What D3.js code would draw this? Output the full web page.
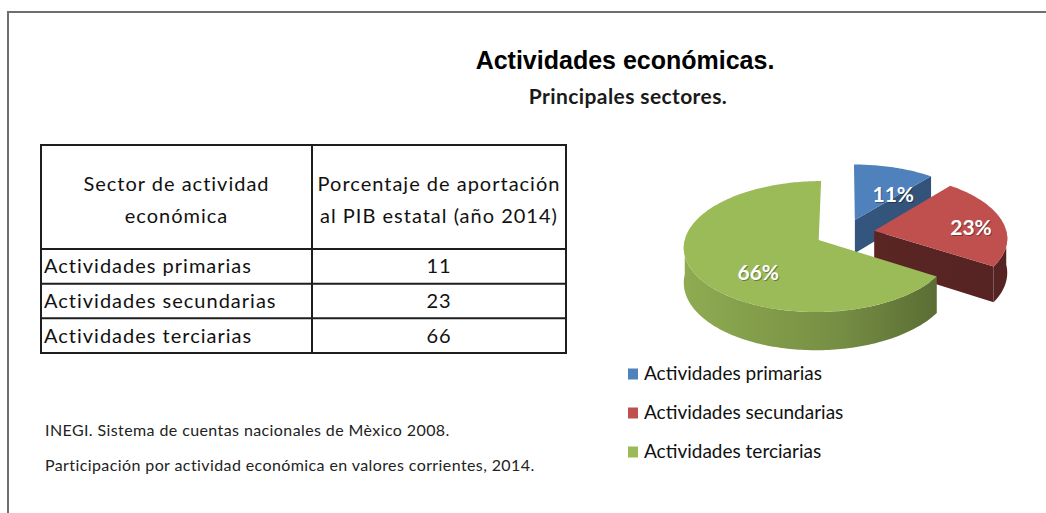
<!DOCTYPE html>
<html>
<head>
<meta charset="utf-8">
<script src="https://cdn.jsdelivr.net/npm/d3@7"></script>
<style>
  body { margin: 0; background: #fff; }
  svg { display: block; }
  .cal { font-family: Lato, "Open Sans", sans-serif; }
</style>
</head>
<body>
<div id="chart"></div>
<script>
'use strict';

// datos
var sectors = ["Actividades primarias", "Actividades secundarias", "Actividades terciarias"];
var shares = [11, 23, 66];
var colors = ["#4F81BD", "#C0504D", "#9BBB59"];
var headers = [["Sector de actividad", "económica"], ["Porcentaje de aportación", "al PIB estatal (año 2014)"]];
var title = "Actividades económicas.";
var subtitle = "Principales sectores.";
var notes = ["INEGI. Sistema de cuentas nacionales de Mèxico 2008.",
             "Participación por actividad económica en valores corrientes, 2014."];

var width = 1046, height = 513;

var svg = d3.select("#chart").append("svg")
    .attr("width", width)
    .attr("height", height);

var defs = svg.append("defs");

// marco
svg.append("rect")
    .attr("x", 8).attr("y", 12)
    .attr("width", 1200).attr("height", 700)
    .attr("fill", "none")
    .attr("stroke", "#6e6e6e")
    .attr("stroke-width", 2);

// titulos
svg.append("text")
    .attr("x", 625).attr("y", 69)
    .attr("text-anchor", "middle")
    .style("font-family", "'Liberation Sans', Arial, sans-serif")
    .style("font-weight", "bold")
    .style("font-size", "25px")
    .text(title);

svg.append("text")
    .attr("class", "cal")
    .attr("x", 628).attr("y", 104)
    .attr("text-anchor", "middle")
    .style("font-weight", "bold")
    .style("font-size", "21px")
    .style("letter-spacing", "0.4px")
    .style("fill", "#1a1a1a")
    .text(subtitle);

// tabla
var tableLeft = 41, tableMid = 312, tableRight = 566, tableTop = 145, headBottom = 249;
var rowY = d3.scaleBand().domain(sectors).range([headBottom, 353]);

var table = svg.append("g").attr("class", "cal")
    .style("font-size", "20px")
    .style("letter-spacing", "1px");

table.append("rect")
    .attr("x", tableLeft).attr("y", tableTop)
    .attr("width", tableRight - tableLeft).attr("height", 353 - tableTop)
    .attr("fill", "none").attr("stroke", "#1e1e1e").attr("stroke-width", 2);

table.append("line")
    .attr("x1", tableMid).attr("x2", tableMid)
    .attr("y1", tableTop).attr("y2", 353)
    .attr("stroke", "#1e1e1e").attr("stroke-width", 2);

table.selectAll(".hline")
    .data(sectors)
    .enter().append("line")
    .attr("class", "hline")
    .attr("x1", tableLeft).attr("x2", tableRight)
    .attr("y1", function (d) { return rowY(d); })
    .attr("y2", function (d) { return rowY(d); })
    .attr("stroke", "#1e1e1e").attr("stroke-width", 2);

var colCenters = [(tableLeft + tableMid) / 2, (tableMid + tableRight) / 2];
headers.forEach(function (lines, i) {
    table.selectAll(".h" + i)
        .data(lines)
        .enter().append("text")
        .attr("x", colCenters[i])
        .attr("y", function (d, j) { return 191 + j * 32; })
        .attr("text-anchor", "middle")
        .style("fill", "#111")
        .text(function (d) { return d; });
});

table.selectAll(".rowlabel")
    .data(sectors)
    .enter().append("text")
    .attr("x", tableLeft + 3)
    .attr("y", function (d) { return rowY(d) + rowY.bandwidth() / 2 + 7; })
    .style("fill", "#111")
    .text(function (d) { return d; });

table.selectAll(".rowvalue")
    .data(shares)
    .enter().append("text")
    .attr("x", colCenters[1])
    .attr("y", function (d, i) { return rowY(sectors[i]) + rowY.bandwidth() / 2 + 7; })
    .attr("text-anchor", "middle")
    .style("fill", "#111")
    .text(function (d) { return d; });

// notas
svg.selectAll(".note")
    .data(notes)
    .enter().append("text")
    .attr("class", "cal")
    .attr("x", 45)
    .attr("y", function (d, i) { return 436 + i * 35; })
    .style("font-size", "16px")
    .style("letter-spacing", "0.4px")
    .style("fill", "#222")
    .text(function (d) { return d; });

// pastel 3d
var P = 0.1, cx = 845, cy = 233, rx = 132.5, ry = 63.4, depth = 34, explode = 0.224;

function proj(X, Z, H) {
    var s = 1 / (1 + P * Z);
    return [cx + rx * X * s, cy + (-ry * Z + depth * H) * s];
}

var pie = d3.pie().sort(null).value(function (d) { return d; });
var arcs = pie(shares).map(function (d, i) {
    var mid = (d.startAngle + d.endAngle) / 2;
    d.i = i;
    d.ox = explode * Math.sin(mid);
    d.oz = explode * Math.cos(mid);
    return d;
});

function rim(d, a, H) { return proj(d.ox + Math.sin(a), d.oz + Math.cos(a), H); }
function apex(d, H) { return proj(d.ox, d.oz, H); }
function arcPts(d, a0, a1, H) {
    var n = Math.max(2, Math.ceil((a1 - a0) / 0.02));
    return d3.range(n + 1).map(function (k) { return rim(d, a0 + (a1 - a0) * k / n, H); });
}

var line = d3.line();
var pieG = svg.append("g");

// gradiente lateral de cada porción
arcs.forEach(function (d) {
    var c = d3.color(colors[d.i]);
    var g = defs.append("linearGradient")
        .attr("id", "side" + d.i)
        .attr("gradientUnits", "userSpaceOnUse")
        .attr("x1", cx - rx * 1.2).attr("x2", cx + rx * 1.3)
        .attr("y1", 0).attr("y2", 0);
    var stops = d.i === 2 ? [[0, 0.25], [0.45, 0.75], [1, 2.3]] : [[0, 1.9], [1, 2.3]];
    if (d.i === 0) stops = [[0, 0.9], [1, 1.4]];
    stops.forEach(function (s) {
        g.append("stop").attr("offset", s[0]).attr("stop-color", c.darker(s[1]).formatHex());
    });
});

var order = arcs.slice().sort(function (a, b) { return b.oz - a.oz; });

order.forEach(function (d) {
    var g = pieG.append("g");
    var a0 = d.startAngle, a1 = d.endAngle;
    // caras de corte visibles
    if (Math.sin(a1) > 1e-6) {
        g.append("path")
            .attr("d", line([apex(d, 0), rim(d, a1, 0), rim(d, a1, 1), apex(d, 1)]) + "Z")
            .attr("fill", "url(#side" + d.i + ")");
    }
    if (Math.sin(a0) < -1e-6) {
        g.append("path")
            .attr("d", line([apex(d, 0), rim(d, a0, 0), rim(d, a0, 1), apex(d, 1)]) + "Z")
            .attr("fill", "url(#side" + d.i + ")");
    }
    // pared exterior visible
    var s0 = Math.max(a0, Math.PI / 2), s1 = Math.min(a1, 3 * Math.PI / 2);
    if (s1 > s0) {
        var pts = arcPts(d, s0, s1, 0).concat(arcPts(d, s0, s1, 1).reverse());
        g.append("path")
            .attr("d", line(pts) + "Z")
            .attr("fill", "url(#side" + d.i + ")");
    }
    // cara superior
    g.append("path")
        .attr("d", line([apex(d, 0)].concat(arcPts(d, a0, a1, 0))) + "Z")
        .attr("fill", colors[d.i]);
});

// etiquetas de porcentaje
var labelPos = [[36, 0.53], [86, 0.74], [221, 0.64]];
var labels = pieG.selectAll(".plabel")
    .data(arcs)
    .enter().append("g")
    .attr("transform", function (d) {
        var a = labelPos[d.i][0] * Math.PI / 180, r = labelPos[d.i][1];
        var p = proj(d.ox + r * Math.sin(a), d.oz + r * Math.cos(a), 0);
        return "translate(" + p[0] + "," + (p[1] + 7) + ")";
    })
    .attr("class", "cal")
    .style("font-weight", "bold")
    .style("font-size", "21px")
    .attr("text-anchor", "middle");

labels.append("text")
    .attr("x", 1).attr("y", 1)
    .style("fill", "rgba(0,0,0,0.35)")
    .text(function (d) { return d.data + "%"; });
labels.append("text")
    .style("fill", "#fff")
    .text(function (d) { return d.data + "%"; });

// leyenda
var legY = d3.scalePoint().domain(sectors).range([374, 452]);
var legend = svg.append("g").attr("class", "cal").style("font-size", "19px");
var item = legend.selectAll(".item")
    .data(sectors)
    .enter().append("g")
    .attr("transform", function (d) { return "translate(628," + legY(d) + ")"; });
item.append("rect")
    .attr("x", 0).attr("y", -5.5)
    .attr("width", 10).attr("height", 11)
    .attr("fill", function (d, i) { return colors[i]; });
item.append("text")
    .attr("x", 16).attr("y", 6)
    .style("fill", "#111")
    .text(function (d) { return d; });
</script>
</body>
</html>
